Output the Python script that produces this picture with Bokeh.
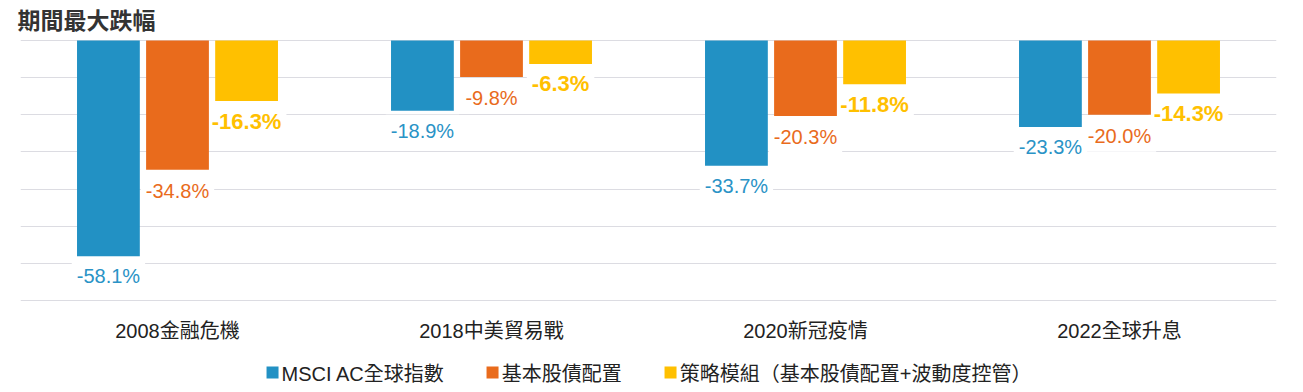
from bokeh.plotting import figure
from bokeh.layouts import column
from bokeh.models import ColumnDataSource, FactorRange, Range1d, FixedTicker, Legend, LegendItem
from bokeh.transform import dodge
from bokeh.core.properties import value
from bokeh.embed import file_html
from bokeh.resources import INLINE

categories = ["2008金融危機", "2018中美貿易戰", "2020新冠疫情", "2022全球升息"]
series_names = ["MSCI AC全球指數", "基本股債配置", "策略模組（基本股債配置+波動度控管）"]
msci = [-58.1, -18.9, -33.7, -23.3]
basic = [-34.8, -9.8, -20.3, -20.0]
strategy = [-16.3, -6.3, -11.8, -14.3]
grid_ticks = [0, -10, -20, -30, -40, -50, -60, -70]

colors = ["#2291C4", "#E96B1C", "#FFC000"]
label_colors = ["#2A93C6", "#E96B1C", "#FFC000"]
FONT = "Liberation Sans, Noto Sans CJK TC"

p = figure(x_range=FactorRange(*categories, range_padding=0), y_range=Range1d(-70.27, 0.27),
           frame_width=1256, frame_height=262, output_backend="svg", toolbar_location=None,
           min_border_left=20, min_border_right=11, min_border_top=0, min_border_bottom=59)
p.outline_line_color = None
p.background_fill_color = "white"

p.title.text = "期間最大跌幅"
p.title.text_font = FONT
p.title.text_font_size = "23px"
p.title.text_font_style = "bold"
p.title.text_color = "#333333"
p.title.align = "left"
p.title.offset = -3
p.title.standoff = 11

src = ColumnDataSource(dict(cat=categories, s0=msci, s1=basic, s2=strategy,
                            l0=[f"{v:.1f}%" for v in msci],
                            l1=[f"{v:.1f}%" for v in basic],
                            l2=[f"{v:.1f}%" for v in strategy]))

offsets = [-0.22, 0.0, 0.22]

label_sizes = ["20px", "20px", "22px"]
label_styles = ["normal", "normal", "bold"]
label_offsets = [20, 21, 20]
for i, off in enumerate(offsets):
    p.text(x=dodge("cat", off, range=p.x_range), y=f"s{i}", text=f"l{i}", source=src,
           text_align="center", text_baseline="middle", y_offset=label_offsets[i],
           text_font=value(FONT), text_font_size=label_sizes[i], text_font_style=label_styles[i],
           text_color=label_colors[i], background_fill_color="white", padding=5)

for i, off in enumerate(offsets):
    p.vbar(x=dodge("cat", off, range=p.x_range), top=f"s{i}", bottom=0, width=0.2,
           source=src, fill_color=colors[i], line_color=None)

p.yaxis.visible = False
p.ygrid.ticker = FixedTicker(ticks=grid_ticks)
p.ygrid.grid_line_color = "#DCDCE2"
p.ygrid.grid_line_width = 1
p.xgrid.grid_line_color = None

p.xaxis.axis_line_color = None
p.xaxis.major_tick_line_color = None
p.xaxis.minor_tick_line_color = None
p.xaxis.major_label_text_font = FONT
p.xaxis.major_label_text_font_size = "20px"
p.xaxis.major_label_text_color = "#222222"
p.xaxis.major_label_standoff = 12

# legend strip below the chart (swatch renderers are zero-size so only the legend shows)
lg = figure(width=1287, height=23, output_backend="svg", toolbar_location=None,
            x_range=Range1d(0, 1), y_range=Range1d(0, 1), min_border=0)
lg.axis.visible = False
lg.grid.visible = False
lg.outline_line_color = None
swatch_src = ColumnDataSource(dict(x=[0.5], bottom=[0.5], top=[0.5]))
swatches = []
for i in range(3):
    swatches.append(lg.vbar(x="x", top="top", bottom="bottom", width=0, source=swatch_src,
                            fill_color=colors[i], line_color=None))

legend = Legend(items=[LegendItem(label=series_names[i], renderers=[swatches[i]]) for i in range(3)],
                orientation="horizontal", location="center",
                label_text_font=FONT, label_text_font_size="20px", label_text_color="#222222",
                glyph_width=15, glyph_height=15, label_standoff=2, spacing=41, label_height=20,
                border_line_color=None, background_fill_alpha=0, padding=0, margin=0)
lg.add_layout(legend, "center")

open("out.html", "w").write(file_html(column(p, lg, spacing=0), INLINE))
